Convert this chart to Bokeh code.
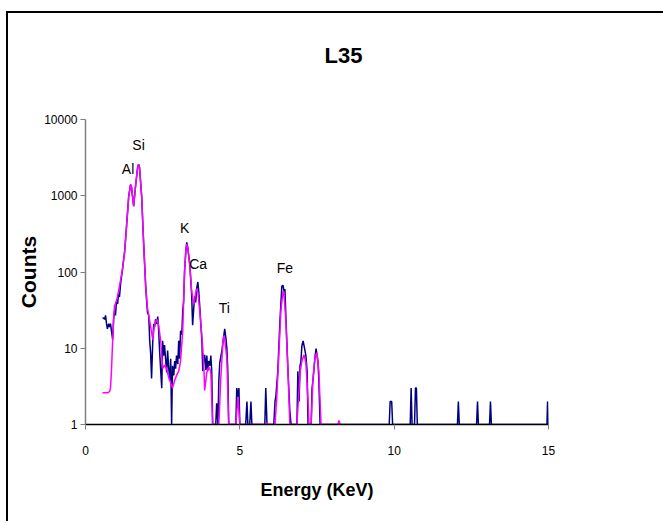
from bokeh.plotting import figure
from bokeh.models import FixedTicker, PrintfTickFormatter, ColumnDataSource
from bokeh.core.properties import value
from bokeh.embed import file_html
from bokeh.resources import INLINE

# Measured spectrum (blue)
meas_energy = [0.55, 0.58, 0.62, 0.65, 0.68, 0.71, 0.75, 0.78, 0.81, 0.84, 0.88, 0.91, 0.94, 0.97,
               1.01, 1.04, 1.07, 1.10, 1.14, 1.20, 1.27, 1.33, 1.40, 1.46, 1.49, 1.56, 1.62, 1.69,
               1.72, 1.75, 1.82, 1.88, 1.95, 1.98, 2.01, 2.05, 2.08, 2.11, 2.14, 2.18, 2.21, 2.24,
               2.27, 2.31, 2.34, 2.37, 2.40, 2.44, 2.47, 2.50, 2.53, 2.56, 2.60, 2.63, 2.66, 2.69,
               2.73, 2.76, 2.79, 2.82, 2.86, 2.89, 2.92, 2.95, 2.99, 3.02, 3.05, 3.08, 3.12, 3.15,
               3.18, 3.21, 3.25, 3.28, 3.31, 3.38, 3.44, 3.47, 3.51, 3.54, 3.57, 3.60, 3.64, 3.67,
               3.70, 3.77, 3.80, 3.83, 3.86, 3.90, 3.93, 3.96, 3.99, 4.03, 4.06, 4.09, 4.12, 4.22,
               4.25, 4.29, 4.32, 4.35, 4.42, 4.48, 4.51, 4.55, 4.58, 4.61, 4.64, 4.87, 4.90, 4.94,
               4.97, 5.00, 5.19, 5.23, 5.26, 5.32, 5.36, 5.39, 5.81, 5.84, 5.88, 6.10, 6.14, 6.17,
               6.23, 6.30, 6.36, 6.40, 6.43, 6.46, 6.49, 6.56, 6.62, 6.66, 6.85, 6.88, 6.92, 6.95,
               6.98, 7.01, 7.05, 7.08, 7.11, 7.14, 7.18, 7.21, 7.31, 7.34, 7.37, 7.44, 7.47, 7.50,
               7.53, 7.56, 7.60, 9.84, 9.87, 9.92, 9.95, 10.52, 10.55, 10.58, 10.66, 10.69, 10.72,
               10.75, 12.05, 12.08, 12.11, 12.67, 12.70, 12.73, 13.09, 13.12, 13.15, 14.95, 14.97,
               15.00]
meas_counts = [25, 25, 24, 27, 21, 18, 21, 19, 21, 17, 13, 24, 31, 27,
               44, 38, 52, 47, 72, 110, 190, 400, 980, 1400, 1300, 730, 1330, 2350,
               2600, 2350, 980, 255, 65, 42, 29, 27, 12.5, 8.7, 4, 12.5, 21, 19,
               24, 21, 26, 17, 9.3, 4.8, 3, 12.5, 8, 11, 6.8, 4.8, 9.3, 5.9,
               3.8, 7.3, 1, 5.9, 4.4, 6.8, 5.4, 8, 6.2, 12.5, 7.3, 17, 15, 31,
               42, 103, 188, 245, 212, 125, 50, 20, 35, 48, 40, 60, 74, 55,
               36, 12.5, 5, 6.8, 8.2, 5.2, 8, 5, 6.8, 5.9, 8, 5, 1, 1,
               1.9, 1, 3.8, 6.5, 9.3, 14.6, 18, 13.5, 10, 5, 1, 1, 3, 2.3,
               3, 1, 1, 2, 1, 1, 2, 1, 1, 3, 1, 1, 2, 2.4,
               5, 23, 65, 67, 56, 60, 27, 5, 1.5, 1, 1, 5, 2, 5.9,
               6.8, 10.8, 12.5, 10.8, 9.3, 8, 5, 1, 1, 3, 3.8, 8, 9.9, 8,
               6.8, 3.8, 1, 1, 2, 2, 1, 1, 3, 1, 1, 3, 3,
               1, 1, 2, 1, 1, 2, 1, 1, 2, 1, 1, 2,
               1]

# Fitted spectrum (magenta)
fit_energy = [0.55, 0.58, 0.62, 0.65, 0.71, 0.78, 0.81, 0.84, 0.88, 0.91, 0.94, 1.01, 1.07, 1.14,
              1.20, 1.27, 1.33, 1.40, 1.46, 1.49, 1.56, 1.62, 1.69, 1.72, 1.75, 1.82, 1.88, 1.95,
              2.01, 2.08, 2.14, 2.18, 2.24, 2.31, 2.37, 2.44, 2.50, 2.56, 2.63, 2.69, 2.76, 2.82,
              2.89, 2.95, 3.02, 3.08, 3.15, 3.18, 3.21, 3.25, 3.28, 3.31, 3.38, 3.44, 3.51, 3.57,
              3.60, 3.64, 3.70, 3.77, 3.83, 3.86, 3.93, 3.99, 4.06, 4.12, 4.32, 4.38, 4.45, 4.48,
              4.51, 4.58, 4.64, 4.87, 4.94, 5.00, 5.84, 5.88, 5.92, 6.14, 6.20, 6.27, 6.33, 6.40,
              6.43, 6.49, 6.56, 6.62, 6.85, 6.95, 7.01, 7.08, 7.14, 7.21, 7.24, 7.31, 7.37, 7.44,
              7.50, 7.56, 7.63, 8.18, 8.21, 8.25, 8.30]
fit_counts = [2.6, 2.6, 2.6, 2.6, 2.6, 2.7, 3, 5, 12.5, 23, 36, 42, 56, 80,
              110, 188, 400, 980, 1400, 1300, 730, 1330, 2350, 2600, 2350, 980, 255, 65,
              33, 23, 16, 13, 21, 24, 20, 12, 5.4, 6, 5.4, 4.2, 3.5, 3,
              3.8, 4.4, 5, 6.8, 17, 42, 103, 188, 232, 212, 120, 56, 38, 53,
              60, 55, 31, 14.6, 6.5, 2.8, 4.8, 5.7, 5, 1, 1, 3.8, 12, 14.6,
              13, 7.3, 1, 1, 2.3, 1, 1, 1.07, 1, 1, 2.4, 9.3, 31, 56,
              53, 23, 5, 1, 1, 4.8, 6.8, 8.2, 6.5, 2, 1, 1, 4, 8,
              8.7, 5, 1, 1, 1.13, 1, 1]

# Peak labels
peak_names = ["Al", "Si", "K", "Ca", "Ti", "Fe"]
peak_energy = [1.38, 1.72, 3.21, 3.65, 4.50, 6.46]
peak_label_counts = [2250, 4700, 380, 127, 34, 113]

x_ticks = [0, 5, 10, 15]
y_ticks = [1, 10, 100, 1000, 10000]

FONT = "'Liberation Sans', Arial, sans-serif"

p = figure(width=660, height=510, x_range=(0, 15), y_range=(1, 10000),
           y_axis_type="log", output_backend="svg", toolbar_location=None,
           min_border_left=77, min_border_right=120, min_border_top=105,
           min_border_bottom=99)
p.margin = (13, 0, 0, 8)
p.styles = {"box-shadow": "-2px -2px 0 0 #000"}

p.title.text = "L35\n\u00a0"
p.title.align = "left"
p.title.offset = 239
p.title.text_font = FONT
p.title.text_font_size = "22px"
p.title.text_font_style = "bold"
p.title.text_color = "black"
p.title.standoff = 54

p.outline_line_color = None
p.xgrid.visible = False
p.ygrid.visible = False
p.background_fill_color = "white"
p.border_fill_color = "white"

p.xaxis.ticker = FixedTicker(ticks=x_ticks)
p.yaxis.ticker = FixedTicker(ticks=y_ticks)
p.yaxis.formatter = PrintfTickFormatter(format="%d")
for ax in (p.xaxis, p.yaxis):
    ax.minor_tick_line_color = None
    ax.major_tick_in = 0
    ax.major_tick_out = 5
    ax.major_tick_line_color = "#808080"
    ax.major_label_text_font = FONT
    ax.major_label_text_font_size = "12px"
    ax.major_label_text_color = "black"
    ax.axis_label_text_font = FONT
    ax.axis_label_text_font_style = "bold"
    ax.axis_label_text_color = "black"
p.xaxis.axis_line_color = "black"
p.xaxis.axis_line_width = 1.5
p.yaxis.axis_line_color = "#808080"
p.yaxis.axis_line_width = 1.5
p.xaxis.major_label_standoff = 16
p.yaxis.major_label_standoff = 3

p.xaxis.axis_label = "Energy (KeV)"
p.xaxis.axis_label_text_font_size = "18px"
p.xaxis.axis_label_standoff = 22
p.yaxis.axis_label = "Counts"
p.yaxis.axis_label_text_font_size = "21px"
p.yaxis.axis_label_standoff = 1

meas = ColumnDataSource(dict(x=meas_energy, y=meas_counts))
fit = ColumnDataSource(dict(x=fit_energy, y=fit_counts))
p.line("x", "y", source=meas, line_color="#000080", line_width=1.5)
p.line("x", "y", source=fit, line_color="#FF00FF", line_width=1.5)

labels = ColumnDataSource(dict(x=peak_energy, y=peak_label_counts, t=peak_names))
p.text("x", "y", text="t", source=labels, text_align="center", text_baseline="middle",
       text_font=value(FONT), text_font_size="14px", text_color="black")

open("out.html", "w").write(file_html(p, INLINE))
